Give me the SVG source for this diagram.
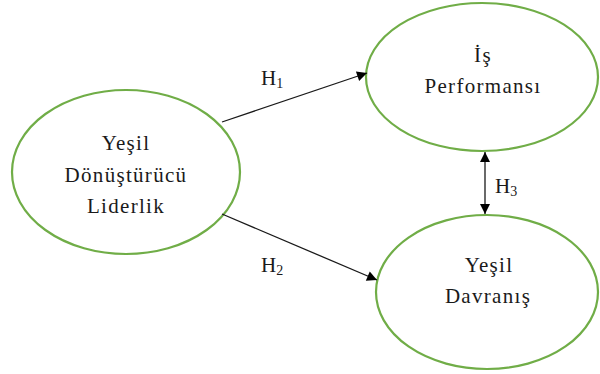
<svg xmlns="http://www.w3.org/2000/svg" width="600" height="374" viewBox="0 0 600 374">
<defs>
<style>
.node{fill:#ffffff;stroke:#70ad47;stroke-width:2.2}
.t{font-family:"Liberation Serif","Times New Roman",serif;font-size:21px;letter-spacing:1.3px;fill:#1a1a1a;text-anchor:middle}
.h{font-family:"Liberation Serif","Times New Roman",serif;font-size:21px;fill:#1a1a1a}
.c{stroke:#1a1a1a;stroke-width:1.3;fill:none}
</style>
<marker id="ah" viewBox="0 0 10 10" refX="10" refY="5" markerWidth="12" markerHeight="10" markerUnits="userSpaceOnUse" orient="auto-start-reverse">
<path d="M0,0 L10,5 L0,10 Z" fill="#000"/>
</marker>
</defs>
<rect width="600" height="374" fill="#ffffff"/>
<g id="n-liderlik">
<ellipse class="node" cx="126" cy="172" rx="114" ry="82"/>
<text class="t" x="126" y="150">Yeşil</text>
<text class="t" x="126" y="182">Dönüştürücü</text>
<text class="t" x="126" y="213">Liderlik</text>
</g>
<g id="n-performans">
<ellipse class="node" cx="482" cy="77" rx="116" ry="74"/>
<text class="t" x="483" y="62">İş</text>
<text class="t" x="483" y="93">Performansı</text>
</g>
<g id="n-davranis">
<ellipse class="node" cx="487" cy="292" rx="111" ry="77"/>
<text class="t" x="489" y="272">Yeşil</text>
<text class="t" x="488" y="303">Davranış</text>
</g>
<g id="connectors">
<line class="c" x1="222" y1="122" x2="367" y2="73" marker-end="url(#ah)"/>
<line class="c" x1="222" y1="214" x2="377" y2="280" marker-end="url(#ah)"/>
<line class="c" x1="485" y1="152" x2="485" y2="214" marker-start="url(#ah)" marker-end="url(#ah)"/>
<text class="h" x="261" y="85">H<tspan font-size="14" dy="3">1</tspan></text>
<text class="h" x="261" y="272">H<tspan font-size="14" dy="3">2</tspan></text>
<text class="h" x="495" y="193">H<tspan font-size="14" dy="3">3</tspan></text>
</g>
</svg>
